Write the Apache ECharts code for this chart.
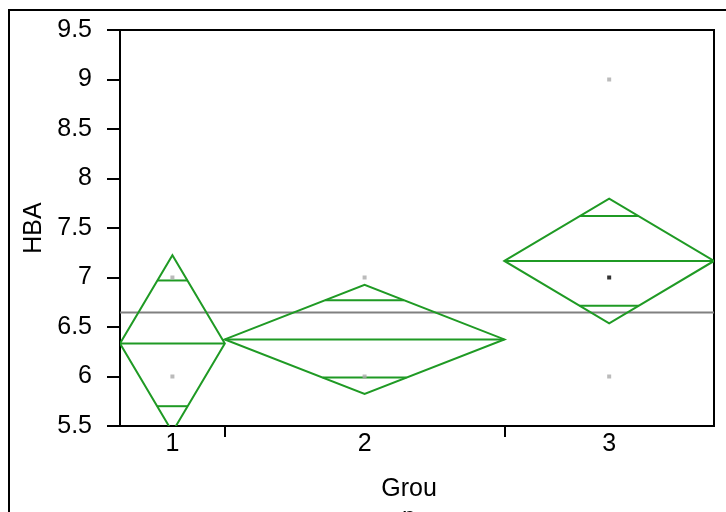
<!DOCTYPE html>
<html><head><meta charset="utf-8">
<script src="https://cdn.jsdelivr.net/npm/echarts@6/dist/echarts.min.js"></script>
<style>html,body{margin:0;padding:0;background:#fff}#c{width:726px;height:512px}</style>
</head><body><div id="c"></div>
<script>
// ---- data ----
const groups = ['1', '2', '3'];
const groupCounts = [3, 8, 6];           // widths of the group bands
const groupMeans = [6.333, 6.375, 7.167];
const ciHalf = [0.893, 0.55, 0.63];      // diamond half-heights
const overlapUpper = [6.97, 6.77, 7.62];
const overlapLower = [5.70, 5.99, 6.715];
const grandMean = 6.647;
const greyPoints = [['1', 7], ['1', 6], ['2', 7], ['2', 6], ['3', 9], ['3', 6]];
const blackPoints = [['3', 7]];
const yMin = 5.5, yMax = 9.5, yStep = 0.5;

// ---- derived band layout ----
const starts = [];
let acc = 0;
groupCounts.forEach(n => { starts.push(acc); acc += n; });
const total = acc;
const centers = groups.map((g, i) => starts[i] + groupCounts[i] / 2);
const boundaries = starts.slice(1);
const gx = g => centers[groups.indexOf(g)];

const FONT = "'Liberation Sans', Arial, sans-serif";
const FS = 25;
const GREEN = '#1f9a24';

const chart = echarts.init(document.getElementById('c'), null, {renderer: 'canvas'});

const diamondData = groups.map((g, i) => [i]);

chart.setOption({
  animation: false,
  grid: {left: 120, right: 12, top: 30, bottom: 86, containLabel: false, outerBoundsMode: 'none',
         show: true, borderColor: '#000', borderWidth: 2, backgroundColor: 'transparent'},
  xAxis: {
    type: 'value', min: 0, max: total,
    name: 'Grou\np', nameLocation: 'middle', nameGap: 49,
    nameTextStyle: {fontFamily: FONT, fontSize: FS, color: '#000', lineHeight: 29, padding: [0, 16, 0, 0], verticalAlign: 'top'},
    axisLine: {show: true, lineStyle: {color: '#000', width: 2}},
    axisTick: {show: true, inside: false, length: 11, lineStyle: {color: '#000', width: 2}, customValues: boundaries},
    axisLabel: {show: true, fontFamily: FONT, fontSize: FS, color: '#000', margin: 6,
      customValues: centers,
      formatter: v => { const i = centers.findIndex(c => Math.abs(c - v) < 1e-6); return i >= 0 ? groups[i] : ''; }},
    splitLine: {show: false}
  },
  yAxis: {
    type: 'value', min: yMin, max: yMax, interval: yStep,
    name: 'HBA', nameLocation: 'middle', nameGap: 72, nameRotate: 90,
    nameTextStyle: {fontFamily: FONT, fontSize: FS, color: '#000'},
    axisLine: {show: true, lineStyle: {color: '#000', width: 2}},
    axisTick: {show: true, inside: false, length: 13, lineStyle: {color: '#000', width: 2}},
    axisLabel: {fontFamily: FONT, fontSize: FS, color: '#000', margin: 28},
    splitLine: {show: false}
  },
  graphic: [{
    type: 'polyline', silent: true,
    shape: {points: [[9, 512], [9, 10], [726, 10]]},
    style: {stroke: '#000', lineWidth: 2, fill: null}
  }],
  series: [
    {
      type: 'line', silent: true, symbol: 'none',
      data: [[0, grandMean], [total, grandMean]],
      lineStyle: {color: '#808080', width: 2}, z: 2
    },
    {
      type: 'custom', clip: true, z: 3,
      data: diamondData,
      renderItem: function (params, api) {
        const i = api.value(0);
        const x0 = starts[i], x1 = starts[i] + groupCounts[i], xc = centers[i];
        const m = groupMeans[i], h = ciHalf[i];
        const L = api.coord([x0, m]), R = api.coord([x1, m]);
        const T = api.coord([xc, m + h]), B = api.coord([xc, m - h]);
        const halfW = (R[0] - L[0]) / 2;
        const children = [];
        const st = {stroke: GREEN, lineWidth: 2, fill: null};
        children.push({type: 'polygon', shape: {points: [L, T, R, B]}, style: st});
        children.push({type: 'line', shape: {x1: L[0], y1: L[1], x2: R[0], y2: R[1]}, style: st});
        [overlapUpper[i], overlapLower[i]].forEach(v => {
          const p = api.coord([xc, v]);
          const w = halfW * (1 - Math.abs(v - m) / h);
          children.push({type: 'line', shape: {x1: p[0] - w, y1: p[1], x2: p[0] + w, y2: p[1]}, style: st});
        });
        return {type: 'group', children: children};
      }
    },
    {
      type: 'scatter', symbol: 'rect', symbolSize: 4, z: 4,
      data: greyPoints.map(p => [gx(p[0]), p[1]]),
      itemStyle: {color: '#aaaaaa'}
    },
    {
      type: 'scatter', symbol: 'rect', symbolSize: 4, z: 5,
      data: blackPoints.map(p => [gx(p[0]), p[1]]),
      itemStyle: {color: '#000'}
    }
  ]
});
</script>
</body></html>
